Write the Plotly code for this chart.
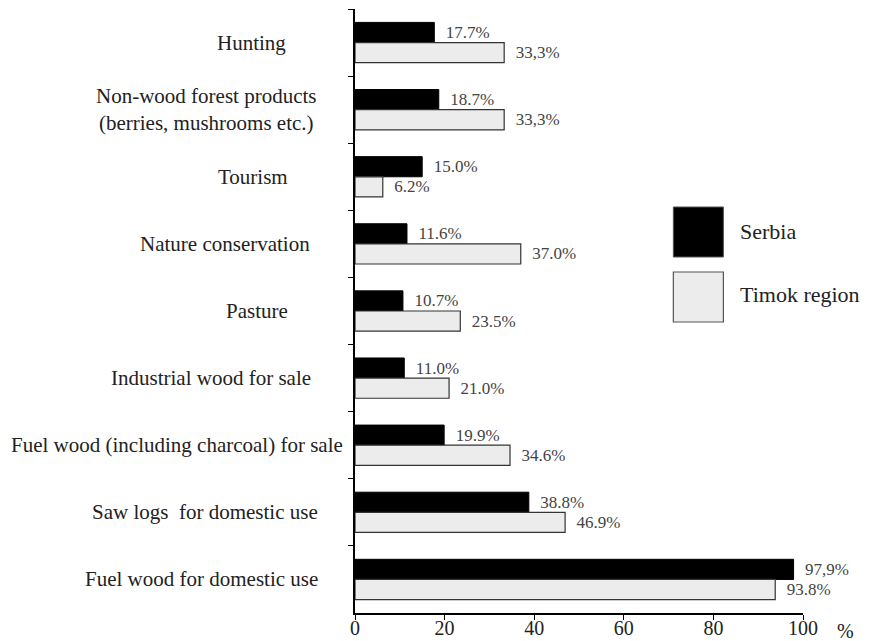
import plotly.graph_objects as go

categories = [
    "Hunting",
    "Non-wood forest products<br>(berries, mushrooms etc.)",
    "Tourism",
    "Nature conservation",
    "Pasture",
    "Industrial wood for sale",
    "Fuel wood (including charcoal) for sale",
    "Saw logs  for domestic use",
    "Fuel wood for domestic use",
]
serbia = [17.7, 18.7, 15.0, 11.6, 10.7, 11.0, 19.9, 38.8, 97.9]
timok = [33.3, 33.3, 6.2, 37.0, 23.5, 21.0, 34.6, 46.9, 93.8]
serbia_labels = ["17.7%", "18.7%", "15.0%", "11.6%", "10.7%", "11.0%", "19.9%", "38.8%", "97,9%"]
timok_labels = ["33,3%", "33,3%", "6.2%", "37.0%", "23.5%", "21.0%", "34.6%", "46.9%", "93.8%"]
x_ticks = [0, 20, 40, 60, 80, 100]

# style: right edge (screen px) of each category caption, as laid out in the original
label_right_px = [288, 318, 290, 312, 290, 313, 345, 320, 320]

FONT = "'Liberation Serif', 'Times New Roman', Times, serif"
PLOT_LEFT = 355.0
PLOT_W = 447.5

fig = go.Figure()
fig.add_trace(go.Bar(
    y=categories, x=serbia, orientation="h", name="Serbia",
    marker=dict(color="#000000", line=dict(color="#000000", width=1)),
    text=serbia_labels, texttemplate="\u00a0\u00a0%{text}",
    textposition="outside", constraintext="none", cliponaxis=False,
    textfont=dict(family=FONT, size=17, color="#444444"),
))
fig.add_trace(go.Bar(
    y=categories, x=timok, orientation="h", name="Timok region",
    marker=dict(color="#ececec", line=dict(color="#333333", width=1.2)),
    text=timok_labels, texttemplate="\u00a0\u00a0%{text}",
    textposition="outside", constraintext="none", cliponaxis=False,
    textfont=dict(family=FONT, size=17, color="#444444"),
))

fig.update_layout(
    width=870, height=633,
    margin=dict(l=347, r=75, t=1, b=28, autoexpand=False),
    paper_bgcolor="white", plot_bgcolor="white",
    barmode="group", bargap=0.4, bargroupgap=0,
    showlegend=False,
    font=dict(family=FONT, size=21, color="#222222"),
)
fig.update_xaxes(
    range=[0, 100], tickvals=x_ticks, ticktext=[str(v) for v in x_ticks],
    showgrid=False, zeroline=False, automargin=False,
    showline=True, linecolor="#000000", linewidth=1.5,
    ticks="outside", ticklen=5, tickcolor="#000000",
    ticklabelstandoff=-9,
    tickfont=dict(family=FONT, size=20, color="#222222"),
)
fig.update_yaxes(
    autorange="reversed", showgrid=False, zeroline=False, automargin=False,
    showline=True, linecolor="#000000", linewidth=1.5,
    ticks="outside", ticklen=5, tickcolor="#000000", tickson="boundaries",
    showticklabels=False,
)

# category captions
for cat, rpx in zip(categories, label_right_px):
    fig.add_annotation(text=cat, xref="paper", yref="y",
                       x=(rpx - PLOT_LEFT) / PLOT_W, y=cat,
                       showarrow=False, xanchor="right", yanchor="middle",
                       align="center",
                       font=dict(family=FONT, size=21, color="#222222"))

# "%" unit label
fig.add_annotation(text="%", xref="paper", yref="paper", x=(845 - PLOT_LEFT) / PLOT_W, y=-0.029,
                   showarrow=False, xanchor="center", yanchor="middle",
                   font=dict(family=FONT, size=20, color="#222222"))

# custom legend
fig.add_shape(type="rect", xref="paper", yref="paper",
              x0=0.7106, x1=0.8223, y0=0.5894, y1=0.6722,
              fillcolor="#000000", line=dict(color="#555555", width=1))
fig.add_shape(type="rect", xref="paper", yref="paper",
              x0=0.7106, x1=0.8223, y0=0.4818, y1=0.5646,
              fillcolor="#ececec", line=dict(color="#555555", width=1.2))
fig.add_annotation(text="Serbia", xref="paper", yref="paper", x=0.856, y=0.631,
                   showarrow=False, xanchor="left", yanchor="middle",
                   font=dict(family=FONT, size=22, color="#222222"))
fig.add_annotation(text="Timok region", xref="paper", yref="paper", x=0.856, y=0.5265,
                   showarrow=False, xanchor="left", yanchor="middle",
                   font=dict(family=FONT, size=22, color="#222222"))

fig.write_html("out.html")
